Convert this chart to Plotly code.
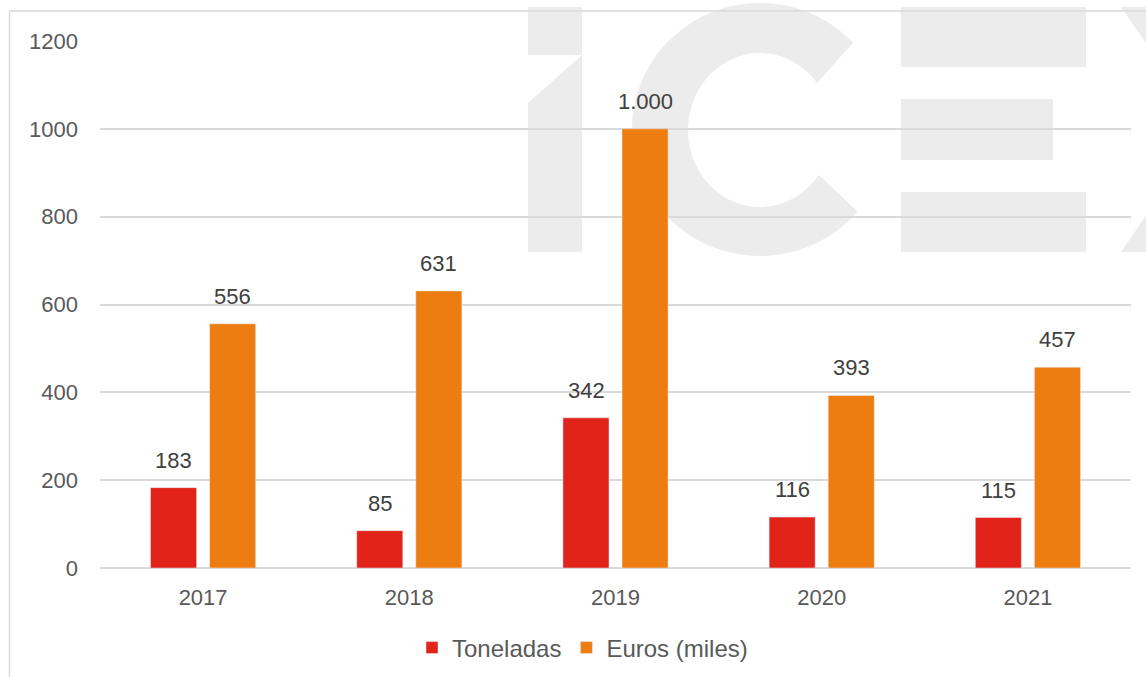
import numpy as np
import plotly.graph_objects as go

years = ["2017", "2018", "2019", "2020", "2021"]
toneladas = [183, 85, 342, 116, 115]
euros_miles = [556, 631, 1000, 393, 457]
y_ticks = [0, 200, 400, 600, 800, 1000, 1200]

W, H = 1146, 677
ML, MR, MT, MB = 100, 15, 41, 109
PW, PH = W - ML - MR, H - MT - MB


def px(x):
    return (x - ML) / PW


def py(y):
    return (H - MB - y) / PH


def poly(points):
    return "M" + " L".join(f"{px(x):.5f},{py(y):.5f}" for x, y in points) + " Z"


WM = "#ececec"
shapes = []
# watermark "iCEX"
shapes.append(dict(type="path", path=poly([(528, 7), (582, 7), (582, 55), (528, 55)])))
shapes.append(dict(type="path", path=poly([(528, 103), (582, 55), (582, 252), (528, 252)])))
cxo, cyo, rxo, ryo = 760, 129.5, 128, 126.5
cxi, cyi, rxi, ryi = 760, 130, 72, 77
outer = [(cxo + rxo * np.cos(np.radians(a)), cyo - ryo * np.sin(np.radians(a)))
         for a in np.linspace(43.3, 360 - 40.4, 90)]
inner = [(cxi + rxi * np.cos(np.radians(a)), cyi - ryi * np.sin(np.radians(a)))
         for a in np.linspace(360 - 35.5, 37.5, 90)]
shapes.append(dict(type="path", path=poly(outer + inner)))
shapes.append(dict(type="path", path=poly([(901, 7), (1086, 7), (1086, 67), (901, 67)])))
shapes.append(dict(type="path", path=poly([(901, 99), (1053, 99), (1053, 160), (901, 160)])))
shapes.append(dict(type="path", path=poly([(901, 192), (1086, 192), (1086, 252), (901, 252)])))
shapes.append(dict(type="path", path=poly([(1121, 7), (1205, 129), (1121, 252), (1260, 252), (1260, 7)])))
for s in shapes:
    s.update(xref="paper", yref="paper", fillcolor=WM, line=dict(width=0), layer="below")

# outer border of chart area
shapes.append(dict(type="path", xref="paper", yref="paper", layer="above",
                   path=f"M{px(9.5)},{py(700)} L{px(9.5)},{py(11)} L{px(1200)},{py(11)}",
                   line=dict(color="#d9d9d9", width=1.5)))

fig = go.Figure()
fig.add_trace(go.Bar(name="Toneladas", x=years, y=toneladas, marker_color="#E2231A"))
fig.add_trace(go.Bar(name="Euros (miles)", x=years, y=euros_miles, marker_color="#EE7D11"))

# data labels above each bar (x given as category index)
annotations = []
for vals, shift in ((toneladas, -29.5), (euros_miles, 29.5)):
    for i, v in enumerate(vals):
        annotations.append(dict(
            x=i, y=v, xref="x", yref="y", text=f"{v:,}".replace(",", "."),
            showarrow=False, xshift=shift, yshift=13, yanchor="bottom",
            font=dict(size=22, color="#404040"),
        ))

fig.update_layout(
    width=W, height=H,
    margin=dict(l=ML, r=MR, t=MT, b=MB, pad=0, autoexpand=False),
    paper_bgcolor="white", plot_bgcolor="rgba(0,0,0,0)",
    font=dict(family="Liberation Sans, Arial, sans-serif", size=22, color="#595959"),
    barmode="group", bargap=0.427, bargroupgap=0.22,
    showlegend=True,
    legend=dict(orientation="h", x=px(412), xanchor="left", y=py(648), yanchor="middle",
                font=dict(size=24, color="#595959"), bgcolor="rgba(0,0,0,0)",
                itemclick=False),
    shapes=shapes,
    annotations=annotations,
)
fig.update_xaxes(type="category", showgrid=False, showline=False, ticks="", ticklabelstandoff=14,
                 tickfont=dict(size=22, color="#595959"))
fig.update_yaxes(range=[0, 1200], tickvals=y_ticks, showgrid=True, gridcolor="#d9d9d9",
                 gridwidth=1.5, zeroline=True, zerolinecolor="#d9d9d9", zerolinewidth=2,
                 showline=False, ticks="", ticklabelstandoff=21,
                 tickfont=dict(size=22, color="#595959"))

fig.write_html("out.html")
